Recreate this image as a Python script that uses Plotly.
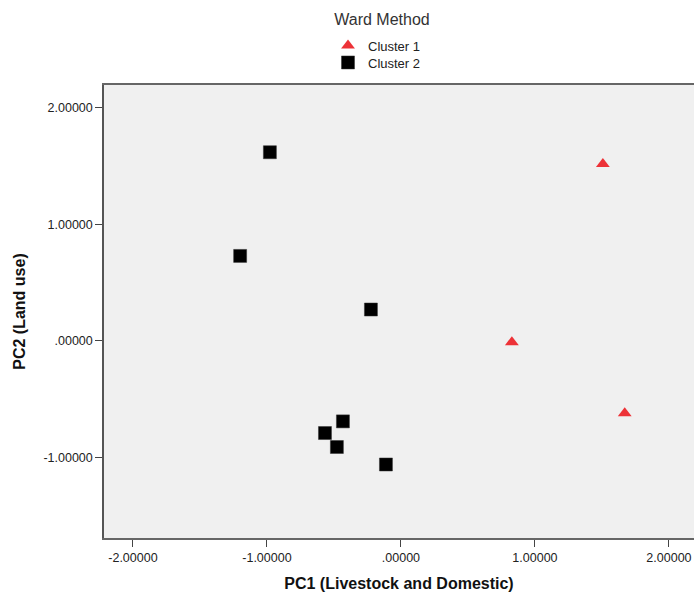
import plotly.graph_objects as go

# Data
cluster1_pc1 = [1.507, 0.828, 1.67]
cluster1_pc2 = [1.52, -0.01, -0.62]
cluster2_pc1 = [-0.978, -1.20, -0.224, -0.433, -0.567, -0.478, -0.112]
cluster2_pc2 = [1.62, 0.73, 0.27, -0.69, -0.79, -0.91, -1.06]

x_tickvals = [-2, -1, 0, 1, 2]
x_ticktext = ["-2.00000", "-1.00000", ".00000", "1.00000", "2.00000"]
y_tickvals = [-1, 0, 1, 2]
y_ticktext = ["-1.00000", ".00000", "1.00000", "2.00000"]

FONT = "Liberation Sans, Arial, sans-serif"

fig = go.Figure()
fig.add_trace(go.Scatter(
    x=cluster1_pc1, y=cluster1_pc2, mode="markers", name="Cluster 1",
    legend="legend",
    marker=dict(symbol="triangle-up", size=12, color="#ed3237", line=dict(width=0)),
))
fig.add_trace(go.Scatter(
    x=cluster2_pc1, y=cluster2_pc2, mode="markers", name="Cluster 2",
    legend="legend2",
    marker=dict(symbol="square", size=13, color="#000000", line=dict(width=0.5, color="#333")),
))

PLOT_TOP, PLOT_H, PLOT_L, PLOT_W = 85, 453, 104, 590
leg_common = dict(xref="paper", yref="paper", xanchor="left", yanchor="middle",
                  bgcolor="rgba(0,0,0,0)", borderwidth=0,
                  font=dict(family=FONT, size=13, color="#222"), itemwidth=30)

fig.update_layout(
    width=694, height=594,
    margin=dict(l=104, r=0, t=85, b=56, autoexpand=False),
    paper_bgcolor="white",
    plot_bgcolor="#f0f0f0",
    font=dict(family=FONT, size=12, color="#222"),
    title=dict(text="Ward Method", x=382/694, xref="container", xanchor="center",
               y=1-19/594, yref="container", yanchor="middle",
               font=dict(family=FONT, size=16, color="#333")),
    legend=dict(x=(328-PLOT_L)/PLOT_W, y=1+(PLOT_TOP-45.5)/PLOT_H, **leg_common),
    legend2=dict(x=(328-PLOT_L)/PLOT_W, y=1+(PLOT_TOP-62.5)/PLOT_H, **leg_common),
    showlegend=True,
)
fig.update_xaxes(
    range=[-2.216, 2.187], tickvals=x_tickvals, ticktext=x_ticktext, tickangle=0,
    showgrid=False, zeroline=False, showline=True, mirror=True,
    linecolor="#666", linewidth=1.5, ticks="outside", ticklen=7, tickcolor="#444",
    tickfont=dict(family=FONT, size=12.5, color="#222"),
    title=dict(text="<b>PC1 (Livestock and Domestic)</b>", standoff=14,
               font=dict(family=FONT, size=16, color="#111")),
)
fig.update_yaxes(
    range=[-1.691, 2.197], tickvals=y_tickvals, ticktext=y_ticktext,
    showgrid=False, zeroline=False, showline=True, mirror=False,
    linecolor="#555", linewidth=1.5, ticks="outside", ticklen=7, tickcolor="#444",
    tickfont=dict(family=FONT, size=12.5, color="#222"),
    title=dict(text="<b>PC2 (Land use)</b>", standoff=14,
               font=dict(family=FONT, size=16, color="#111")),
)

fig.write_html("out.html",
               config={"displayModeBar": False},
               post_script="document.body.style.margin='0';document.body.style.overflow='hidden';")
